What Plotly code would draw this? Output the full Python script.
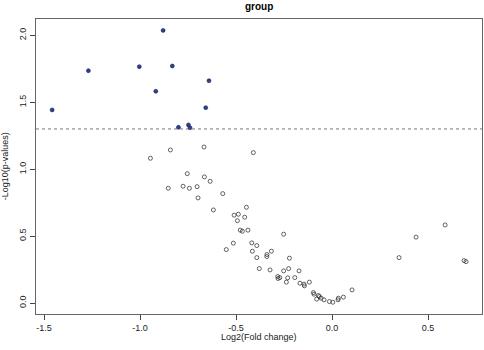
import plotly.graph_objects as go

# Significant features (p < 0.05)
sig_x = [-0.880, -1.269, -1.004, -0.832, -0.641, -0.918, -1.458, -0.658, -0.800, -0.748, -0.740]
sig_y = [2.037, 1.736, 1.766, 1.771, 1.661, 1.582, 1.443, 1.460, 1.313, 1.331, 1.310]

# Non-significant features
ns_x = [-0.842, -0.667, -0.410, -0.946, -0.754, -0.665, -0.635, -0.776, -0.853, -0.743,
        -0.703, -0.569, -0.698, -0.618, -0.446, -0.510, -0.488, -0.455, -0.493, -0.478,
        -0.467, -0.438, -0.252, -0.514, -0.418, -0.392, -0.551, -0.415, -0.316, -0.339,
        -0.340, -0.392, -0.222, -0.379, -0.226, -0.323, -0.252, -0.172, -0.283, -0.281,
        -0.272, -0.194, -0.231, -0.238, -0.167, -0.146, -0.144, -0.118, -0.094, -0.097,
        -0.071, -0.066, -0.080, -0.057, -0.042, -0.014, 0.004, 0.031, 0.033, 0.059,
        0.104, 0.589, 0.4375, 0.349, 0.6875, 0.698]
ns_y = [1.144, 1.166, 1.124, 1.082, 0.967, 0.943, 0.910, 0.873, 0.858, 0.858,
        0.870, 0.818, 0.786, 0.696, 0.716, 0.657, 0.664, 0.642, 0.616, 0.545,
        0.537, 0.545, 0.515, 0.448, 0.450, 0.430, 0.400, 0.388, 0.388, 0.363,
        0.348, 0.340, 0.336, 0.258, 0.258, 0.248, 0.241, 0.241, 0.199, 0.184,
        0.191, 0.191, 0.189, 0.157, 0.149, 0.142, 0.129, 0.157, 0.067, 0.079,
        0.057, 0.049, 0.030, 0.037, 0.025, 0.012, 0.007, 0.025, 0.037, 0.045,
        0.099, 0.584, 0.493, 0.340, 0.318, 0.310]

x_ticks = [-1.5, -1.0, -0.5, 0.0, 0.5]
y_ticks = [0.0, 0.5, 1.0, 1.5, 2.0]
p_cutoff = 1.301  # -log10(0.05)

FONT = "Liberation Sans, Arial, sans-serif"

fig = go.Figure()
fig.add_trace(go.Scatter(
    x=ns_x, y=ns_y, mode="markers",
    marker=dict(symbol="circle-open", size=4, color="#222222", line=dict(width=0.7, color="#222222")),
    showlegend=False, hoverinfo="x+y"))
fig.add_trace(go.Scatter(
    x=sig_x, y=sig_y, mode="markers",
    marker=dict(symbol="circle", size=4, color="#2f3f96", line=dict(width=0.5, color="#111133")),
    showlegend=False, hoverinfo="x+y"))

fig.add_shape(type="line", xref="paper", yref="y", x0=0, x1=1, y0=p_cutoff, y1=p_cutoff,
              line=dict(color="#555555", width=0.8, dash="dot"))

axis_common = dict(showgrid=False, zeroline=False, showline=True, mirror=True,
                   linecolor="#666666", linewidth=1, ticks="outside", ticklen=5,
                   tickcolor="#444444", tickfont=dict(family=FONT, size=9, color="#222222"))

fig.update_xaxes(range=[-1.542, 0.781], tickvals=x_ticks,
                 ticktext=[f"{v:.1f}" for v in x_ticks], **axis_common)
fig.update_yaxes(range=[-0.081, 2.122], tickvals=y_ticks,
                 ticktext=[f"{v:.1f}" for v in y_ticks], tickangle=-90, **axis_common)

fig.add_annotation(text="<b>group</b>", xref="paper", yref="paper", x=0.5, y=1.044,
                   showarrow=False, font=dict(family=FONT, size=10, color="black"),
                   xanchor="center", yanchor="middle")
fig.add_annotation(text="Log2(Fold change)", xref="paper", yref="paper", x=0.5, y=-0.078,
                   showarrow=False, font=dict(family=FONT, size=9, color="#222222"),
                   xanchor="center", yanchor="middle")
fig.add_annotation(text="-Log10(p-values)", xref="paper", yref="paper", x=-0.07, y=0.5,
                   textangle=-90, showarrow=False,
                   font=dict(family=FONT, size=9, color="#222222"),
                   xanchor="center", yanchor="middle")

fig.update_layout(width=484, height=350, margin=dict(l=36, r=2, t=19, b=36),
                  plot_bgcolor="white", paper_bgcolor="white")

fig.write_html("out.html")
